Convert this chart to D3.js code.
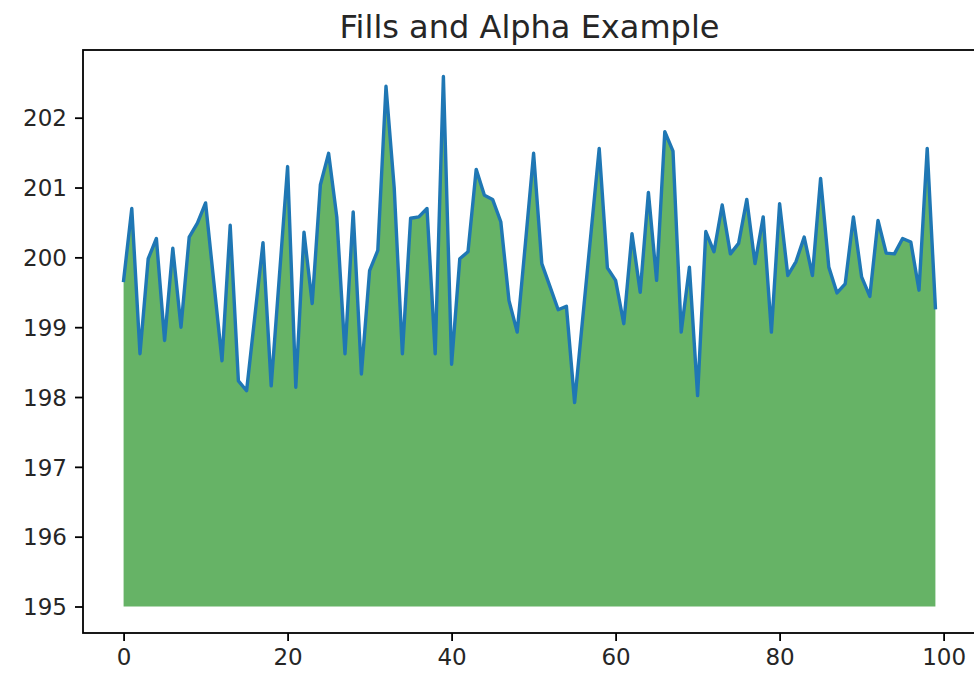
<!DOCTYPE html>
<html><head><meta charset="utf-8">
<script src="https://cdn.jsdelivr.net/npm/d3@7"></script>
<style>body{margin:0;background:#fff}svg{display:block}text{font-family:"DejaVu Sans",sans-serif;fill:#262626}</style>
</head><body>
<script>
const title = "Fills and Alpha Example";
const values = [199.67,200.70,198.62,199.98,200.27,198.81,200.13,199.00,200.29,200.49,
200.78,199.65,198.52,200.46,198.23,198.09,199.15,200.21,198.16,199.73,
201.30,198.14,200.36,199.34,201.04,201.49,200.58,198.62,200.65,198.33,
199.81,200.10,202.45,201.00,198.62,200.56,200.58,200.70,198.62,202.59,
198.47,199.98,200.08,201.26,200.89,200.83,200.51,199.38,198.93,200.20,
201.49,199.91,199.58,199.25,199.30,197.92,199.14,200.35,201.56,199.85,
199.67,199.05,200.34,199.50,200.93,199.67,201.80,201.52,198.93,199.86,
198.02,200.37,200.08,200.75,200.05,200.20,200.83,199.91,200.58,198.93,
200.77,199.74,199.94,200.29,199.74,201.13,199.86,199.49,199.62,200.58,
199.72,199.44,200.53,200.06,200.05,200.27,200.22,199.53,201.56,199.28];
const baseline = 195;
const xTicks = [0,20,40,60,80,100];
const yTicks = [195,196,197,198,199,200,201,202];

const W=974,H=683, L=83, R=976, T=50, B=633;
const svg=d3.select("body").append("svg").attr("width",W).attr("height",H);
const idx = values.map((v,i)=>i);
const n = values.length-1;
const xPad = n*0.05;
const yMin = Math.min(baseline, d3.min(values)), yMax = d3.max(values);
const yPad = (yMax-yMin)*0.05;
const x=d3.scaleLinear().domain([-xPad, n+xPad]).range([L,R]);
const y=d3.scaleLinear().domain([yMin-yPad, yMax+yPad]).range([B,T]);

const area=d3.area().x((d,i)=>x(i)).y0(y(baseline)).y1(d=>y(d));
svg.append("path").datum(values).attr("d",area).attr("fill","#008000").attr("fill-opacity",0.6);
const line=d3.line().x((d,i)=>x(i)).y(d=>y(d));
svg.append("path").datum(values).attr("d",line).attr("fill","none")
  .attr("stroke","#1f77b4").attr("stroke-width",3.4).attr("stroke-linejoin","round").attr("stroke-linecap","square");

// spines
const sp=svg.append("g").attr("stroke","#000").attr("stroke-width",1.8).attr("fill","none");
sp.append("rect").attr("x",L).attr("y",T).attr("width",R-L).attr("height",B-T);

const xa=svg.append("g").attr("transform",`translate(0,${B})`)
  .call(d3.axisBottom(x).tickValues(xTicks).tickSize(8).tickPadding(8).tickFormat(d3.format("d")));
const ya=svg.append("g").attr("transform",`translate(${L},0)`)
  .call(d3.axisLeft(y).tickValues(yTicks).tickSize(8).tickPadding(8).tickFormat(d3.format("d")));
[xa,ya].forEach(a=>{
  a.select(".domain").remove();
  a.selectAll(".tick line").attr("stroke","#000").attr("stroke-width",1.8);
  a.selectAll(".tick text").attr("font-size",23).attr("fill","#262626").style("font-family","DejaVu Sans");
});
ya.selectAll(".tick text").attr("dy","0.36em");
svg.append("text").attr("x",(L+R)/2).attr("y",38).attr("text-anchor","middle")
  .attr("font-size",32).text(title);
</script>
</body></html>
